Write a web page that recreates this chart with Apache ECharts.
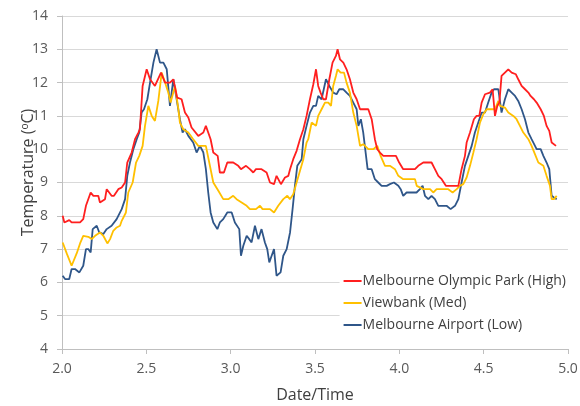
<!DOCTYPE html>
<html>
<head>
<meta charset="utf-8">
<script src="https://cdn.jsdelivr.net/npm/echarts@6/dist/echarts.min.js"></script>
<style>
  html, body { margin: 0; padding: 0; background: #fff; }
  #chart { width: 580px; height: 406px; }
</style>
</head>
<body>
<div id="chart"></div>
<script>
// Temperature readings (°C) against fractional date/time, one list per station.
const olympicPark = [
  [2.004,8.0],[2.014,7.8],[2.043,7.87],[2.057,7.8],[2.107,7.8],[2.126,7.9],[2.142,8.3],[2.170,8.7],
  [2.186,8.6],[2.215,8.6],[2.225,8.4],[2.255,8.5],[2.265,8.8],[2.294,8.6],[2.308,8.6],[2.334,8.8],
  [2.354,8.85],[2.374,9.0],[2.387,9.6],[2.413,9.9],[2.433,10.3],[2.453,10.5],[2.462,10.6],[2.478,11.9],
  [2.502,12.4],[2.522,12.1],[2.551,11.9],[2.561,11.9],[2.587,12.3],[2.611,12.0],[2.640,12.0],[2.660,12.1],
  [2.683,11.55],[2.709,11.5],[2.729,11.1],[2.749,10.95],[2.768,10.65],[2.808,10.4],[2.838,10.5],[2.853,10.7],
  [2.881,10.3],[2.897,9.9],[2.923,9.8],[2.936,9.3],[2.960,9.3],[2.980,9.6],[3.015,9.6],[3.045,9.5],
  [3.061,9.4],[3.091,9.5],[3.114,9.4],[3.134,9.3],[3.150,9.4],[3.183,9.4],[3.213,9.3],[3.233,9.0],
  [3.257,8.95],[3.272,9.2],[3.298,8.95],[3.322,9.15],[3.342,9.2],[3.352,9.4],[3.371,9.7],[3.391,9.95],
  [3.411,10.3],[3.431,10.6],[3.450,11.0],[3.470,11.5],[3.490,11.95],[3.506,12.4],[3.519,11.9],[3.533,11.7],
  [3.549,11.5],[3.565,11.5],[3.585,12.1],[3.604,12.6],[3.624,12.8],[3.634,13.0],[3.648,12.7],[3.668,12.6],
  [3.687,12.4],[3.707,12.1],[3.727,11.7],[3.747,11.5],[3.767,11.2],[3.796,11.2],[3.816,11.2],[3.836,10.9],
  [3.855,10.3],[3.869,10.0],[3.885,9.9],[3.905,9.8],[3.944,9.8],[3.980,9.8],[3.999,9.6],[4.023,9.4],
  [4.053,9.4],[4.093,9.4],[4.112,9.5],[4.142,9.6],[4.191,9.6],[4.211,9.4],[4.231,9.2],[4.251,9.1],
  [4.276,8.9],[4.300,8.9],[4.350,8.9],[4.369,9.4],[4.389,9.8],[4.399,10.2],[4.419,10.5],[4.442,10.9],
  [4.458,11.0],[4.474,11.0],[4.488,11.4],[4.508,11.65],[4.537,11.7],[4.553,11.8],[4.567,11.0],[4.581,11.3],
  [4.593,11.4],[4.606,12.2],[4.626,12.3],[4.646,12.4],[4.666,12.3],[4.691,12.25],[4.705,12.1],[4.725,11.9],
  [4.745,11.8],[4.765,11.7],[4.778,11.6],[4.798,11.5],[4.814,11.4],[4.838,11.2],[4.857,11.0],[4.873,10.7],
  [4.889,10.55],[4.903,10.2],[4.929,10.1]
];

const viewbank = [
  [2.004,7.2],[2.028,6.87],[2.057,6.5],[2.087,6.87],[2.107,7.17],[2.126,7.4],[2.156,7.37],[2.176,7.3],
  [2.196,7.4],[2.225,7.5],[2.245,7.4],[2.269,7.17],[2.285,7.3],[2.304,7.55],[2.324,7.65],[2.344,7.7],
  [2.354,7.85],[2.379,8.1],[2.393,8.7],[2.419,9.0],[2.439,9.6],[2.458,9.8],[2.478,10.1],[2.492,10.7],
  [2.512,11.3],[2.532,11.0],[2.551,10.85],[2.561,10.8],[2.571,11.45],[2.591,12.3],[2.611,12.0],[2.630,11.7],
  [2.644,11.4],[2.670,11.9],[2.690,11.2],[2.699,10.8],[2.719,10.6],[2.749,10.5],[2.778,10.3],[2.808,10.1],
  [2.838,10.1],[2.853,10.1],[2.873,9.6],[2.897,9.0],[2.927,8.75],[2.956,8.5],[2.986,8.5],[3.015,8.6],
  [3.035,8.5],[3.065,8.4],[3.095,8.3],[3.114,8.2],[3.150,8.2],[3.174,8.3],[3.189,8.2],[3.233,8.2],
  [3.257,8.1],[3.282,8.3],[3.312,8.5],[3.336,8.6],[3.351,8.5],[3.371,8.65],[3.391,9.0],[3.411,9.35],
  [3.431,9.7],[3.450,10.2],[3.460,10.3],[3.480,10.8],[3.506,10.7],[3.519,11.0],[3.539,11.2],[3.559,11.4],
  [3.579,11.4],[3.595,11.3],[3.608,11.9],[3.624,12.2],[3.634,12.4],[3.652,12.3],[3.672,12.3],[3.687,12.0],
  [3.707,11.7],[3.727,11.1],[3.747,10.7],[3.767,10.1],[3.786,10.15],[3.816,10.0],[3.846,10.0],[3.869,10.1],
  [3.889,9.8],[3.915,9.5],[3.944,9.5],[3.974,9.4],[3.994,9.2],[4.023,9.1],[4.063,9.1],[4.093,9.1],
  [4.103,8.9],[4.142,8.8],[4.182,8.8],[4.201,8.7],[4.221,8.8],[4.261,8.8],[4.290,8.8],[4.316,8.7],
  [4.340,8.8],[4.359,8.9],[4.379,8.95],[4.399,9.15],[4.419,9.5],[4.439,9.9],[4.458,10.3],[4.478,10.8],
  [4.498,11.05],[4.518,11.2],[4.537,11.2],[4.567,11.2],[4.587,11.45],[4.597,11.3],[4.626,11.25],[4.646,11.1],
  [4.676,11.0],[4.695,10.9],[4.715,10.7],[4.735,10.5],[4.765,10.3],[4.784,10.1],[4.804,9.85],[4.824,9.6],
  [4.854,9.5],[4.873,9.2],[4.893,8.9],[4.903,8.5],[4.917,8.5],[4.933,8.6]
];

const airport = [
  [2.004,6.2],[2.018,6.1],[2.043,6.1],[2.057,6.4],[2.077,6.4],[2.103,6.3],[2.126,6.5],[2.142,7.0],
  [2.156,7.0],[2.170,6.9],[2.182,7.6],[2.206,7.7],[2.221,7.5],[2.245,7.45],[2.265,7.6],[2.294,7.7],
  [2.324,7.9],[2.354,8.2],[2.374,8.5],[2.387,9.2],[2.403,9.6],[2.423,10.0],[2.443,10.3],[2.458,10.5],
  [2.472,11.1],[2.486,11.2],[2.506,11.5],[2.522,12.0],[2.542,12.6],[2.561,13.0],[2.581,12.6],[2.601,12.6],
  [2.621,12.4],[2.640,11.3],[2.660,12.1],[2.683,11.4],[2.699,10.9],[2.715,10.5],[2.729,10.6],[2.749,10.4],
  [2.778,10.2],[2.798,9.9],[2.818,10.1],[2.838,9.9],[2.853,9.4],[2.867,8.7],[2.881,8.1],[2.897,7.8],
  [2.921,7.6],[2.936,7.8],[2.956,7.9],[2.980,8.1],[3.006,8.1],[3.025,7.8],[3.051,7.6],[3.061,6.8],
  [3.075,7.1],[3.095,7.4],[3.110,7.3],[3.124,7.2],[3.144,7.7],[3.164,7.3],[3.183,7.6],[3.203,7.2],
  [3.217,7.0],[3.229,6.6],[3.243,6.8],[3.257,7.0],[3.272,6.2],[3.296,6.3],[3.312,6.8],[3.332,7.0],
  [3.352,7.5],[3.367,8.2],[3.381,8.9],[3.395,9.5],[3.421,9.7],[3.431,10.3],[3.450,10.7],[3.470,11.1],
  [3.490,11.3],[3.506,11.3],[3.519,11.6],[3.539,11.5],[3.549,11.5],[3.565,12.1],[3.585,11.9],[3.608,11.7],
  [3.628,11.65],[3.644,11.8],[3.668,11.8],[3.687,11.7],[3.707,11.6],[3.727,11.4],[3.747,11.2],[3.757,10.7],
  [3.772,10.9],[3.786,10.5],[3.812,9.4],[3.836,9.4],[3.855,9.1],[3.875,9.0],[3.895,8.9],[3.925,8.9],
  [3.944,8.95],[3.968,9.0],[3.994,8.9],[4.008,8.8],[4.023,8.6],[4.043,8.7],[4.073,8.7],[4.102,8.7],
  [4.122,8.8],[4.138,8.9],[4.152,8.6],[4.172,8.5],[4.191,8.6],[4.211,8.5],[4.231,8.3],[4.261,8.3],
  [4.280,8.3],[4.304,8.2],[4.330,8.3],[4.350,8.5],[4.369,9.0],[4.389,9.5],[4.409,9.8],[4.429,10.1],
  [4.448,10.5],[4.468,10.8],[4.488,11.1],[4.508,11.1],[4.527,11.4],[4.547,11.7],[4.561,11.8],[4.587,11.8],
  [4.606,11.1],[4.626,11.5],[4.646,11.8],[4.666,11.7],[4.686,11.6],[4.705,11.45],[4.725,11.2],[4.745,10.9],
  [4.765,10.5],[4.784,10.3],[4.814,10.0],[4.838,10.0],[4.854,9.8],[4.873,9.6],[4.889,9.4],[4.903,8.6],
  [4.917,8.55],[4.933,8.5]
];

const seriesNames = ['Melbourne Olympic Park (High)', 'Viewbank (Med)', 'Melbourne Airport (Low)'];
const seriesColors = ['#ff1f1f', '#ffc000', '#2f5689'];
const seriesData = [olympicPark, viewbank, airport];

const FONT = 'Open Sans, Liberation Sans, sans-serif';

const chart = echarts.init(document.getElementById('chart'), null, { renderer: 'canvas' });

chart.setOption({
  animation: false,
  backgroundColor: '#ffffff',
  grid: { left: 62, right: 12, top: 16, bottom: 57, containLabel: false, outerBoundsMode: 'none' },
  xAxis: {
    type: 'value',
    min: 2, max: 5, interval: 0.5,
    name: 'Date/Time',
    nameLocation: 'middle',
    nameGap: 38,
    nameMoveOverlap: false,
    nameTextStyle: { fontFamily: FONT, fontSize: 16, color: '#404040' },
    axisLine: { show: true, lineStyle: { color: '#bfbfbf', width: 1 } },
    axisTick: { show: true, length: 5, lineStyle: { color: '#bfbfbf' } },
    axisLabel: { fontFamily: FONT, fontSize: 14, color: '#595959', margin: 13,
                 formatter: v => v.toFixed(1) },
    splitLine: { show: false }
  },
  yAxis: {
    type: 'value',
    min: 4, max: 14, interval: 1,
    name: '{t|Temperature (}{s|o}{t|C)}',
    nameLocation: 'middle',
    nameGap: 26,
    nameRotate: 90,
    nameMoveOverlap: false,
    nameTextStyle: {
      padding: [0, 0, 0, 20],
      rich: {
        t: { fontFamily: FONT, fontSize: 16, color: '#404040' },
        s: { fontFamily: FONT, fontSize: 10, color: '#404040', verticalAlign: 'top', padding: [0, 0, 6, 0] }
      }
    },
    axisLine: { show: true, lineStyle: { color: '#bfbfbf', width: 1 } },
    axisTick: { show: true, length: 5, lineStyle: { color: '#bfbfbf' } },
    axisLabel: { fontFamily: FONT, fontSize: 14, color: '#595959', margin: 14 },
    splitLine: { show: true, lineStyle: { color: '#d9d9d9', width: 1 } }
  },
  legend: {
    orient: 'vertical',
    right: 10,
    top: 270,
    backgroundColor: '#ffffff',
    padding: [4, 4, 4, 4],
    itemGap: 8,
    itemWidth: 18,
    itemHeight: 2,
    icon: 'rect',
    textStyle: { fontFamily: FONT, fontSize: 14, color: '#404040', padding: [0, 0, 0, -4] },
    data: seriesNames
  },
  series: seriesData.map((d, i) => ({
    name: seriesNames[i],
    type: 'line',
    data: d,
    showSymbol: false,
    symbol: 'none',
    lineStyle: { color: seriesColors[i], width: 1.8 },
    itemStyle: { color: seriesColors[i] },
    z: 3 - i
  }))
});
</script>
</body>
</html>
